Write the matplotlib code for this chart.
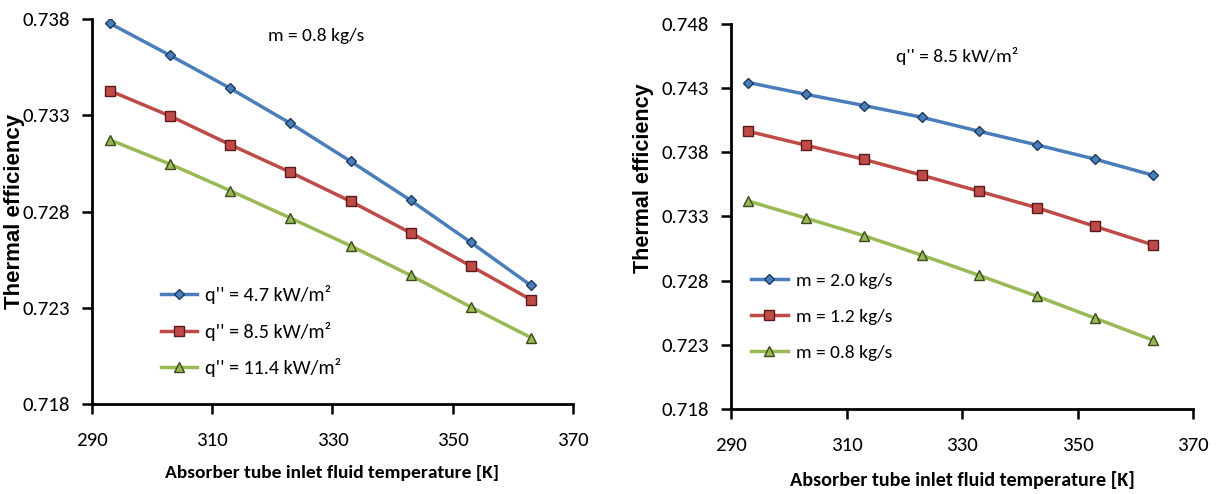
import matplotlib
matplotlib.use("Agg")
import matplotlib.pyplot as plt

# ---- data ----
temps = [293, 303, 313, 323, 333, 343, 353, 363]

left_labels = ["q'' = 4.7 kW/m²", "q'' = 8.5 kW/m²", "q'' = 11.4 kW/m²"]
left_q47 = [0.73777, 0.73611, 0.73440, 0.73258, 0.73061, 0.72858, 0.72640, 0.72416]
left_q85 = [0.73427, 0.73296, 0.73147, 0.73004, 0.72853, 0.72689, 0.72517, 0.72342]
left_q114 = [0.73172, 0.73046, 0.72908, 0.72766, 0.72622, 0.72468, 0.72304, 0.72145]

right_labels = ["m = 2.0 kg/s", "m = 1.2 kg/s", "m = 0.8 kg/s"]
right_m20 = [0.74342, 0.74250, 0.74163, 0.74072, 0.73962, 0.73856, 0.73746, 0.73621]
right_m12 = [0.73962, 0.73854, 0.73744, 0.73621, 0.73495, 0.73367, 0.73223, 0.73079]
right_m08 = [0.73419, 0.73286, 0.73150, 0.72998, 0.72840, 0.72678, 0.72508, 0.72337]

x_ticks = [290, 310, 330, 350, 370]
left_yticks = [0.718, 0.723, 0.728, 0.733, 0.738]
right_yticks = [0.718, 0.723, 0.728, 0.733, 0.738, 0.743, 0.748]

left_note = "m = 0.8 kg/s"
right_note = "q'' = 8.5 kW/m²"
xlabel = "Absorber tube inlet fluid temperature [K]"
ylabel = "Thermal efficiency"

# ---- style ----
NARROW = ['Carlito', 'IBM Plex Sans Condensed', 'DejaVu Sans']
ARIAL = ['Liberation Sans', 'Arimo', 'DejaVu Sans']
colors = ['#4A7EBB', '#BE4B48', '#98B954']
edge = ['#1F3A5F', '#5A1A1A', '#3A4A1A']
markers = ['D', 's', '^']
msizes = [5.5, 7, 7]

fig = plt.figure(figsize=(12.28, 4.94), dpi=100)
axL = fig.add_axes([0.0749, 0.1822, 0.3917, 0.7793])
axR = fig.add_axes([0.5953, 0.172, 0.3762, 0.780])


def style(ax, yticks, ylab_x, ylab_y, xlab_y, xlab_size, ylab_size):
    for s in ['top', 'right']:
        ax.spines[s].set_visible(False)
    for s in ['left', 'bottom']:
        ax.spines[s].set_linewidth(2.0)
        ax.spines[s].set_color('black')
    ax.set_xlim(290, 370)
    ax.set_ylim(yticks[0], yticks[-1])
    ax.set_xticks(x_ticks)
    ax.set_yticks(yticks)
    ax.set_xticklabels([str(v) for v in x_ticks])
    ax.set_yticklabels([f"{v:.3f}" for v in yticks])
    ax.tick_params(axis='both', direction='out', length=7, width=1.8,
                   labelsize=15, color='black')
    ax.tick_params(axis='x', pad=13)
    ax.tick_params(axis='y', pad=9)
    for lab in ax.get_xticklabels() + ax.get_yticklabels():
        lab.set_family(NARROW)
    ax.set_xlabel(xlabel, fontsize=xlab_size, fontweight='bold', family=NARROW,
                  va='center')
    ax.xaxis.set_label_coords(0.5, xlab_y)
    ax.set_ylabel(ylabel, fontsize=ylab_size, fontweight='bold', family=ARIAL,
                  va='center', ha='center')
    ax.yaxis.set_label_coords(ylab_x, ylab_y)


def plot_series(ax, series, labels):
    for i, (ys, lab) in enumerate(zip(series, labels)):
        ax.plot(temps, ys, color=colors[i], lw=2.5, marker=markers[i],
                ms=msizes[i], mfc=colors[i], mec=edge[i], mew=1.0, label=lab)


plot_series(axL, [left_q47, left_q85, left_q114], left_labels)
plot_series(axR, [right_m20, right_m12, right_m08], right_labels)

style(axL, left_yticks, -0.162, 0.5, -0.18, 14, 16)
style(axR, right_yticks, -0.19, 0.6, -0.185, 14.5, 15.5)

axL.text(0.467, 0.955, left_note, transform=axL.transAxes, fontsize=14,
         family=NARROW, ha='center', va='center')
axR.text(0.49, 0.916, right_note, transform=axR.transAxes, fontsize=14,
         family=NARROW, ha='center', va='center')

axL.legend(loc='upper left', bbox_to_anchor=(0.105, 0.355), frameon=False,
           prop={'family': NARROW, 'size': 14.5}, handlelength=1.8,
           labelspacing=0.85, handletextpad=0.4)
axR.legend(loc='upper left', bbox_to_anchor=(0.005, 0.40), frameon=False,
           prop={'family': NARROW, 'size': 14}, handlelength=1.9,
           labelspacing=1.0, handletextpad=0.4)

fig.savefig('out.png', dpi=100)
